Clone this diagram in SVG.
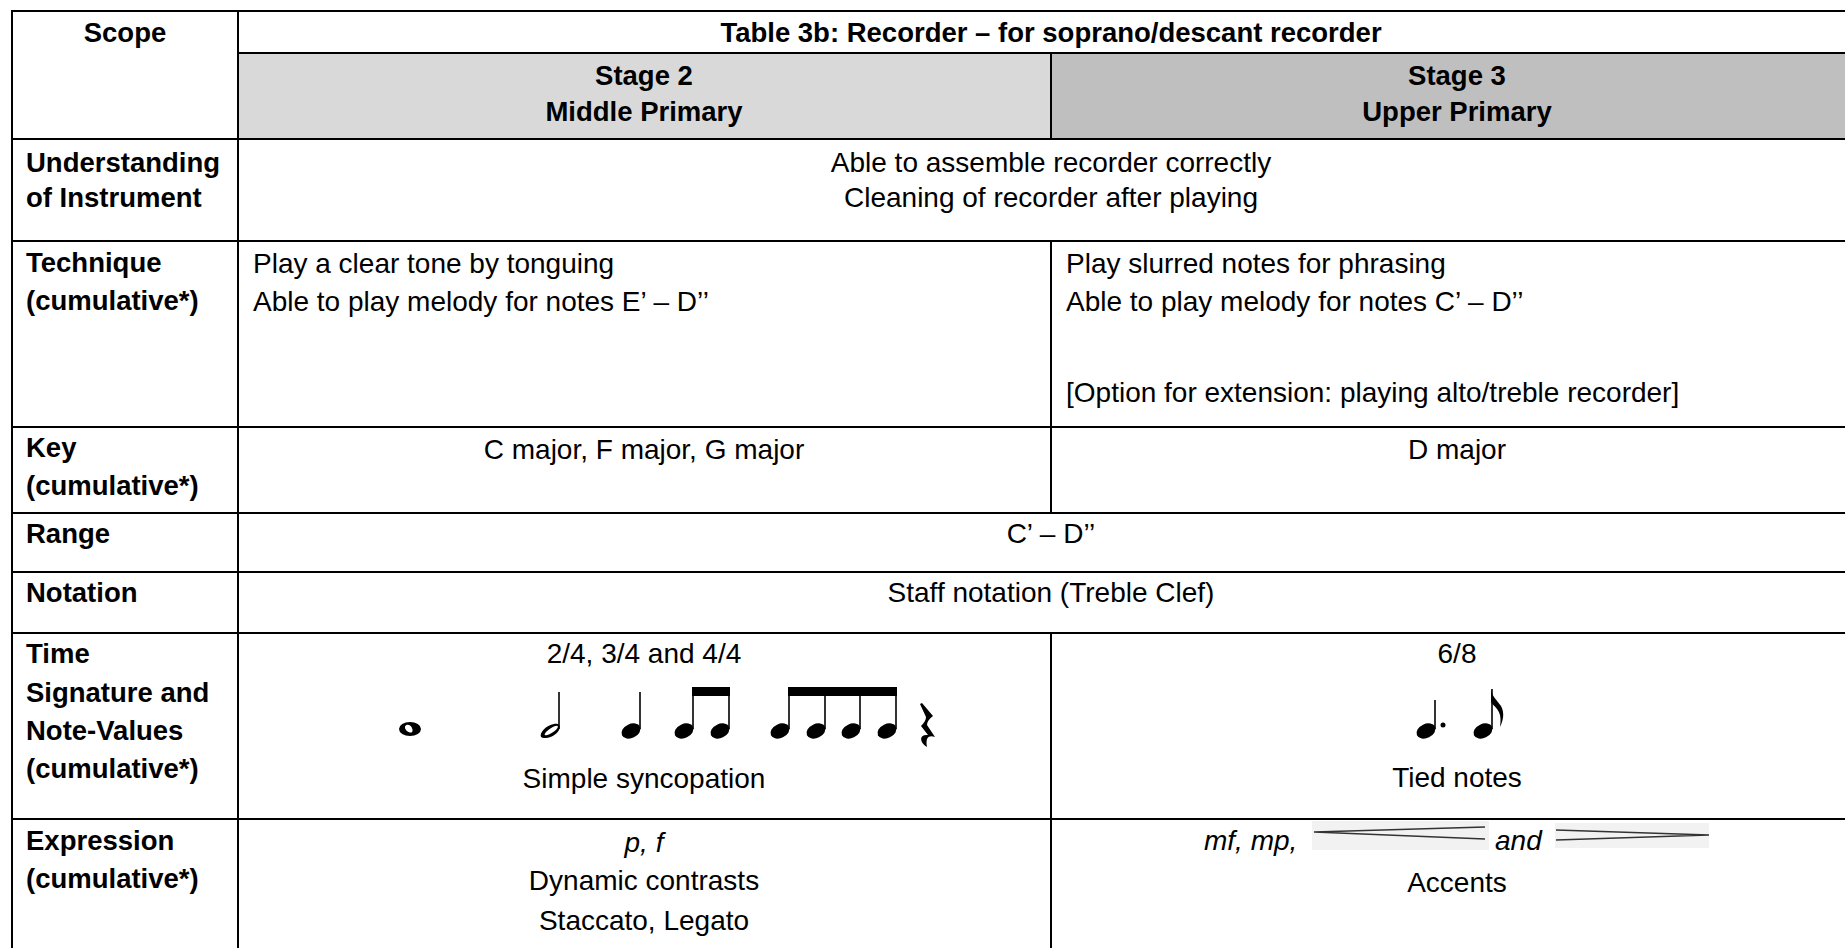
<svg xmlns="http://www.w3.org/2000/svg" width="1845" height="948" viewBox="0 0 1845 948">
<style>
text{font-family:"Liberation Sans",Arial,sans-serif;fill:#000}
.b{font-weight:bold;font-size:27.5px}
.r{font-size:28px}
.i{font-size:28px;font-style:italic}
.c{text-anchor:middle}
.grid line{stroke:#000;stroke-width:2}
.stem{stroke:#000;stroke-width:1.6}
.hair{stroke:#333;stroke-width:1.6;fill:none}
</style>
<rect width="1845" height="948" fill="#fff"/>
<g id="fills">
<rect x="238" y="53" width="813" height="86" fill="#d9d9d9"/>
<rect x="1051" y="53" width="794" height="86" fill="#bfbfbf"/>
</g>
<g id="grid" class="grid">
<line x1="11" y1="11" x2="1845" y2="11"/>
<line x1="238" y1="53" x2="1845" y2="53"/>
<line x1="11" y1="139" x2="1845" y2="139"/>
<line x1="11" y1="241" x2="1845" y2="241"/>
<line x1="11" y1="427" x2="1845" y2="427"/>
<line x1="11" y1="513" x2="1845" y2="513"/>
<line x1="11" y1="572" x2="1845" y2="572"/>
<line x1="11" y1="633" x2="1845" y2="633"/>
<line x1="11" y1="819" x2="1845" y2="819"/>
<line x1="12" y1="10" x2="12" y2="948"/>
<line x1="238" y1="10" x2="238" y2="948"/>
<line x1="1051" y1="53" x2="1051" y2="139"/>
<line x1="1051" y1="241" x2="1051" y2="513"/>
<line x1="1051" y1="633" x2="1051" y2="948"/>
</g>
<g id="header">
<text class="b c" x="125" y="42">Scope</text>
<text class="b c" x="1051" y="42">Table 3b: Recorder – for soprano/descant recorder</text>
<text class="b c" x="644" y="85">Stage 2</text>
<text class="b c" x="644" y="121">Middle Primary</text>
<text class="b c" x="1457" y="85">Stage 3</text>
<text class="b c" x="1457" y="121">Upper Primary</text>
</g>
<g id="row-understanding">
<text class="b" x="26" y="172">Understanding</text>
<text class="b" x="26" y="207">of Instrument</text>
<text class="r c" x="1051" y="172">Able to assemble recorder correctly</text>
<text class="r c" x="1051" y="207">Cleaning of recorder after playing</text>
</g>
<g id="row-technique">
<text class="b" x="26" y="272">Technique</text>
<text class="b" x="26" y="310">(cumulative*)</text>
<text class="r" x="253" y="273">Play a clear tone by tonguing</text>
<text class="r" x="253" y="311">Able to play melody for notes E’ – D’’</text>
<text class="r" x="1066" y="273">Play slurred notes for phrasing</text>
<text class="r" x="1066" y="311">Able to play melody for notes C’ – D’’</text>
<text class="r" x="1066" y="402">[Option for extension: playing alto/treble recorder]</text>
</g>
<g id="row-key">
<text class="b" x="26" y="457">Key</text>
<text class="b" x="26" y="495">(cumulative*)</text>
<text class="r c" x="644" y="459">C major, F major, G major</text>
<text class="r c" x="1457" y="459">D major</text>
</g>
<g id="row-range">
<text class="b" x="26" y="543">Range</text>
<text class="r c" x="1051" y="543">C’ – D’’</text>
</g>
<g id="row-notation">
<text class="b" x="26" y="602">Notation</text>
<text class="r c" x="1051" y="602">Staff notation (Treble Clef)</text>
</g>
<g id="row-time">
<text class="b" x="26" y="663">Time</text>
<text class="b" x="26" y="702">Signature and</text>
<text class="b" x="26" y="740">Note-Values</text>
<text class="b" x="26" y="778">(cumulative*)</text>
<text class="r c" x="644" y="663">2/4, 3/4 and 4/4</text>
<text class="r c" x="644" y="788">Simple syncopation</text>
<text class="r c" x="1457" y="663">6/8</text>
<text class="r c" x="1457" y="787">Tied notes</text>
<g id="notes-stage2">
<path d="M399 729a11 7 0 1 0 22 0a11 7 0 1 0 -22 0z M405 726.5c1-2.5 4.5-2.5 6.5 0.5c2 3.5 1 6-1.5 5.5c-2.5-0.5-5.5-3-5-6z" fill="#000" fill-rule="evenodd"/>
<path d="M541 737c-2-4 5-12 13-13c5-1 7 2 5 6c-2 4-8 8-13 8c-3 0-4.5-0.5-5-1z M545 735c1 1 5-0.5 9-3.5c3.5-2.5 4.5-5 3.5-5.5c-1-1-5 1-8.5 3.5c-3.5 2.5-5 5-4 5.5z" fill="#000" fill-rule="evenodd"/>
<line class="stem" x1="559" y1="692" x2="559" y2="729"/>
<ellipse cx="631" cy="731" rx="10" ry="7" transform="rotate(-25 631 731)"/>
<line class="stem" x1="640" y1="692" x2="640" y2="729"/>
<ellipse cx="684" cy="731" rx="10" ry="7" transform="rotate(-25 684 731)"/>
<ellipse cx="720" cy="731" rx="10" ry="7" transform="rotate(-25 720 731)"/>
<line class="stem" x1="693" y1="690" x2="693" y2="729"/>
<line class="stem" x1="729" y1="690" x2="729" y2="729"/>
<rect x="692" y="687" width="38" height="9"/>
<ellipse cx="780" cy="731" rx="10" ry="7" transform="rotate(-25 780 731)"/>
<ellipse cx="816" cy="731" rx="10" ry="7" transform="rotate(-25 816 731)"/>
<ellipse cx="851" cy="731" rx="10" ry="7" transform="rotate(-25 851 731)"/>
<ellipse cx="887" cy="731" rx="10" ry="7" transform="rotate(-25 887 731)"/>
<line class="stem" x1="789" y1="690" x2="789" y2="729"/>
<line class="stem" x1="825" y1="690" x2="825" y2="729"/>
<line class="stem" x1="860" y1="690" x2="860" y2="729"/>
<line class="stem" x1="896" y1="690" x2="896" y2="729"/>
<rect x="788" y="687" width="109" height="9"/>
<path d="M922 703l11 13c-4 3-6 6-6 9l8 12c-5-2-10-1-8 10c-8-5-8-13 1-12l-7-9c3-3 5-6 5-9l-6-13z" fill="#000"/>
</g>
<g id="notes-stage3">
<ellipse cx="1426" cy="731" rx="10" ry="7" transform="rotate(-25 1426 731)"/>
<line class="stem" x1="1435" y1="700" x2="1435" y2="729"/>
<circle cx="1443" cy="725" r="2.5"/>
<ellipse cx="1483" cy="731" rx="10" ry="7" transform="rotate(-25 1483 731)"/>
<line class="stem" x1="1492" y1="689" x2="1492" y2="729"/>
<path d="M1491 689c1 8 6 11 10 17c4 7 2 15-1 21c1-7 1-13-3-18c-2-3-5-5-6-7z" fill="#000"/>
</g>
</g>
<g id="row-expression">
<text class="b" x="26" y="850">Expression</text>
<text class="b" x="26" y="888">(cumulative*)</text>
<text class="i c" x="644" y="852">p, f</text>
<text class="r c" x="644" y="890">Dynamic contrasts</text>
<text class="r c" x="644" y="930">Staccato, Legato</text>
<text class="i" x="1204" y="850">mf, mp,</text>
<g id="crescendo">
<rect x="1312" y="821" width="177" height="29" fill="#f2f2f2"/>
<polyline class="hair" points="1485,827 1314,832 1485,839"/>
</g>
<text class="i" x="1495" y="850">and</text>
<g id="decrescendo">
<rect x="1555" y="823" width="154" height="25" fill="#f2f2f2"/>
<polyline class="hair" points="1556,830 1709,835 1556,840"/>
</g>
<text class="r c" x="1457" y="892">Accents</text>
</g>
</svg>
